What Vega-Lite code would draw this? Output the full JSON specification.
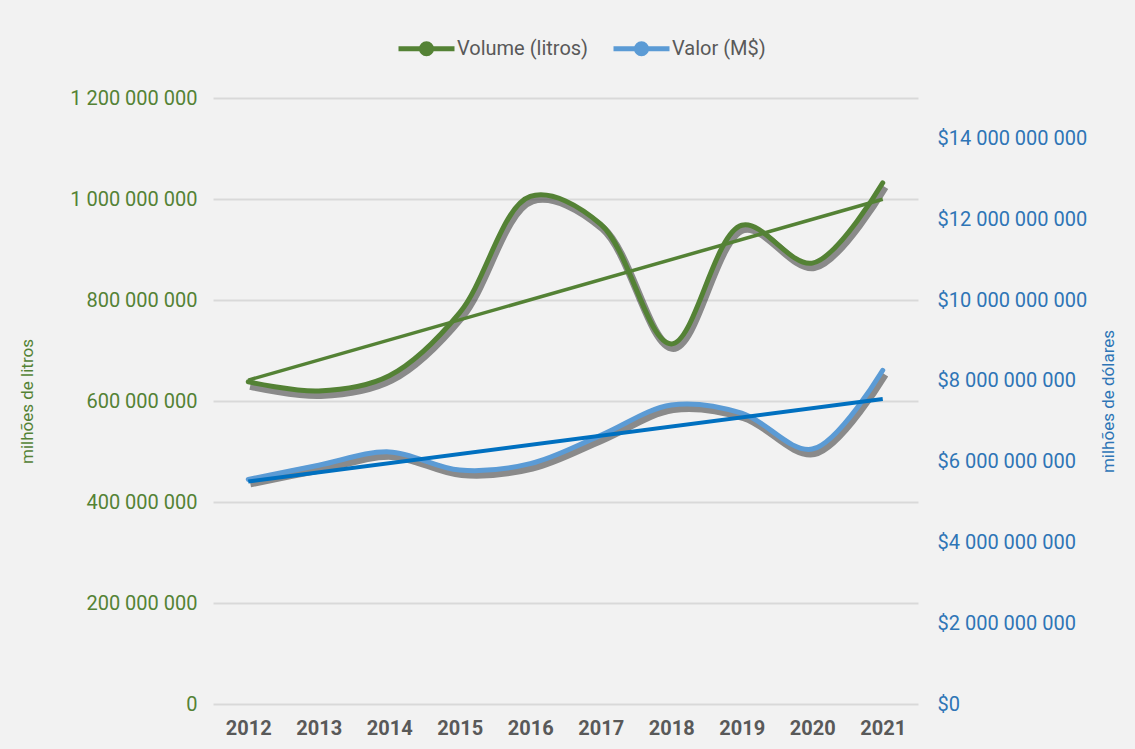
{
  "$schema": "https://vega.github.io/schema/vega-lite/v6.json",
  "autosize": {"type": "none"},
  "width": 705,
  "height": 606,
  "padding": {"left": 213, "top": 98, "right": 217, "bottom": 45},
  "background": "#F2F2F2",
  "config": {
    "font": "Roboto",
    "view": {"stroke": null},
    "locale": {"number": {"decimal": ",", "thousands": " ", "grouping": [3], "currency": ["$", ""]}}
  },
  "datasets": {
    "dados": [
      {"ano": 2012, "volume": 638000000, "valor": 5560000000},
      {"ano": 2013, "volume": 620000000, "valor": 5910000000},
      {"ano": 2014, "volume": 650000000, "valor": 6240000000},
      {"ano": 2015, "volume": 775000000, "valor": 5790000000},
      {"ano": 2016, "volume": 1005000000, "valor": 5950000000},
      {"ano": 2017, "volume": 950000000, "valor": 6650000000},
      {"ano": 2018, "volume": 713000000, "valor": 7400000000},
      {"ano": 2019, "volume": 948000000, "valor": 7200000000},
      {"ano": 2020, "volume": 873000000, "valor": 6310000000},
      {"ano": 2021, "volume": 1032000000, "valor": 8260000000}
    ]
  },
  "data": {"name": "dados"},
  "encoding": {
    "x": {
      "field": "ano", "type": "quantitative",
      "scale": {"domain": [2011.5, 2021.5], "nice": false, "zero": false},
      "axis": {
        "values": [2012, 2013, 2014, 2015, 2016, 2017, 2018, 2019, 2020, 2021],
        "format": "d", "title": null, "grid": false, "domain": false, "ticks": false,
        "labelFontSize": 20, "labelFontWeight": "bold", "labelColor": "#595959",
        "labelPadding": 14, "labelFlush": false, "labelOverlap": false
      }
    }
  },
  "layer": [
    {
      "encoding": {
        "y": {
          "field": "volume", "type": "quantitative",
          "scale": {"domain": [0, 1200000000], "nice": false},
          "axis": {
            "values": [0, 200000000, 400000000, 600000000, 800000000, 1000000000, 1200000000],
            "format": ",.0f", "domain": false, "ticks": false,
            "grid": true, "gridColor": "#D9D9D9", "gridWidth": 2,
            "labelColor": "#548235", "labelFontSize": 20, "labelPadding": 16,
            "title": "milhões de litros", "titleColor": "#548235", "titleFontSize": 17,
            "titleFontWeight": "normal", "titleFont": "Liberation Sans Narrow, Roboto",
            "titleX": -186, "titleY": 303, "titleAngle": -90, "titleBaseline": "middle", "titleAlign": "center"
          }
        }
      },
      "layer": [
        {
          "mark": {"type": "line", "interpolate": "catmull-rom", "stroke": "#222222", "opacity": 0.5, "strokeWidth": 8, "xOffset": 2, "yOffset": 4}
        },
        {
          "mark": {"type": "line", "interpolate": "catmull-rom", "strokeWidth": 5, "strokeCap": "round"},
          "encoding": {
            "color": {
              "datum": "Volume (litros)", "type": "nominal",
              "scale": {"domain": ["Volume (litros)", "Valor (M$)"], "range": ["#548235", "#5B9BD5"]},
              "legend": {
                "orient": "none", "direction": "horizontal", "legendX": 183, "legendY": -80,
                "title": null, "padding": 0,
                "symbolType": "M-1,0L1,0M0.18,0A0.18,0.18,0,1,1,-0.18,0A0.18,0.18,0,1,1,0.18,0Z",
                "symbolSize": 3136, "symbolStrokeWidth": 5,
                "labelFontSize": 20, "labelColor": "#595959", "labelOffset": 0,
                "columnPadding": 14,
                "encode": {"symbols": {"update": {
                  "fill": {"scale": "color", "field": "value"},
                  "stroke": {"scale": "color", "field": "value"},
                  "strokeWidth": {"value": 5},
                  "opacity": {"value": 1}
                }}}
              }
            }
          }
        },
        {
          "transform": [{"regression": "volume", "on": "ano", "extent": [2012, 2021]}],
          "mark": {"type": "line", "stroke": "#548235", "strokeWidth": 3.5}
        }
      ]
    },
    {
      "encoding": {
        "y": {
          "field": "valor", "type": "quantitative",
          "scale": {"domain": [0, 15000000000], "nice": false},
          "axis": {
            "orient": "right",
            "values": [0, 2000000000, 4000000000, 6000000000, 8000000000, 10000000000, 12000000000, 14000000000],
            "format": "$,.0f", "domain": false, "ticks": false, "grid": false,
            "labelColor": "#2E75B6", "labelFontSize": 20, "labelPadding": 19,
            "title": "milhões de dólares", "titleColor": "#2E75B6", "titleFontSize": 17,
            "titleFontWeight": "normal", "titleFont": "Liberation Sans Narrow, Roboto",
            "titleX": 190, "titleY": 303, "titleAngle": -90, "titleBaseline": "middle", "titleAlign": "center"
          }
        }
      },
      "layer": [
        {
          "mark": {"type": "line", "interpolate": "catmull-rom", "stroke": "#222222", "opacity": 0.5, "strokeWidth": 8, "xOffset": 2, "yOffset": 4}
        },
        {
          "mark": {"type": "line", "interpolate": "catmull-rom", "strokeWidth": 5, "strokeCap": "round"},
          "encoding": {"color": {"datum": "Valor (M$)", "type": "nominal"}}
        },
        {
          "transform": [{"regression": "valor", "on": "ano", "extent": [2012, 2021]}],
          "mark": {"type": "line", "stroke": "#0070C0", "strokeWidth": 4}
        }
      ]
    }
  ],
  "resolve": {"scale": {"y": "independent"}}
}
